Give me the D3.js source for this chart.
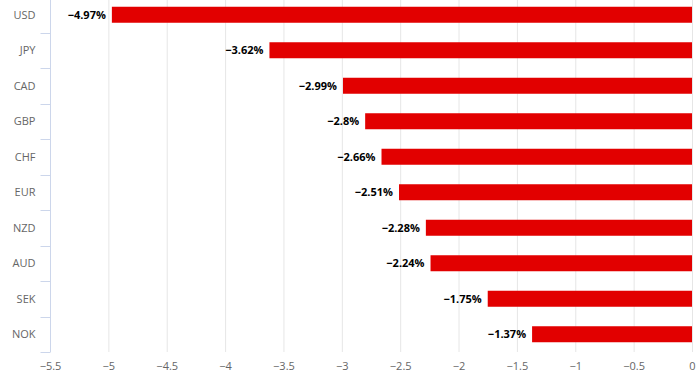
<!DOCTYPE html>
<html><head><meta charset="utf-8">
<script src="https://cdn.jsdelivr.net/npm/d3@7"></script>
<style>body{margin:0;background:#fff}svg{display:block;font-family:"Open Sans",sans-serif}</style>
</head><body><svg id="c" width="697" height="387"></svg>
<script>
const categories = ["USD","JPY","CAD","GBP","CHF","EUR","NZD","AUD","SEK","NOK"];
const values = [-4.97,-3.62,-2.99,-2.8,-2.66,-2.51,-2.28,-2.24,-1.75,-1.37];
const xTicks = [-5.5,-5,-4.5,-4,-3.5,-3,-2.5,-2,-1.5,-1,-0.5,0];

const svg = d3.select("#c");
const x = d3.scaleLinear().domain([-5.5,0]).range([50,692]);
const y = d3.scaleBand().domain(categories).range([-3,352]);
const fmt = v => String(v).replace("-","\u2212");

// grid
svg.append("g").selectAll("line").data(xTicks).join("line")
  .attr("x1",d=>x(d)+0.5).attr("x2",d=>x(d)+0.5).attr("y1",-3).attr("y2",352)
  .attr("stroke","#e6e6e6").attr("stroke-width",1);

// x axis
const xa = svg.append("g").attr("transform","translate(0,352)")
  .call(d3.axisBottom(x).tickValues(xTicks).tickSize(0).tickPadding(0).tickFormat(fmt));
xa.select(".domain").remove();
xa.selectAll("text").attr("y",10).attr("fill","#666").attr("font-size","11px").attr("font-family","Open Sans");

// y axis
const ya = svg.append("g").attr("transform","translate(50.5,0)");
ya.append("line").attr("x1",0).attr("x2",0).attr("y1",-3).attr("y2",352).attr("stroke","#ccd6eb");
const bounds = categories.map((c,i)=>y(c)+y.bandwidth());
ya.selectAll("line.t").data(bounds).join("line").attr("class","t")
  .attr("x1",-10).attr("x2",0).attr("y1",d=>Math.round(d)+0.5).attr("y2",d=>Math.round(d)+0.5).attr("stroke","#ccd6eb");
ya.selectAll("text").data(categories).join("text")
  .attr("x",-15).attr("y",d=>y(d)+y.bandwidth()/2).attr("dy","0.35em")
  .attr("text-anchor","end").attr("fill","#666").attr("font-size","11px").text(d=>d);

// bars
const bh = 16;
svg.append("g").selectAll("rect").data(values).join("rect")
  .attr("x",d=>x(d)).attr("width",d=>x(0)-x(d))
  .attr("y",(d,i)=>y(categories[i])+y.bandwidth()/2-bh/2).attr("height",bh)
  .attr("fill","#e20000");

// labels
svg.append("g").selectAll("text").data(values).join("text")
  .attr("x",d=>x(d)-6).attr("y",(d,i)=>y(categories[i])+y.bandwidth()/2).attr("dy","0.35em")
  .attr("text-anchor","end").attr("font-size","11px").attr("font-weight","bold").attr("fill","#000")
  .text(d=>fmt(d)+"%");
</script></body></html>
